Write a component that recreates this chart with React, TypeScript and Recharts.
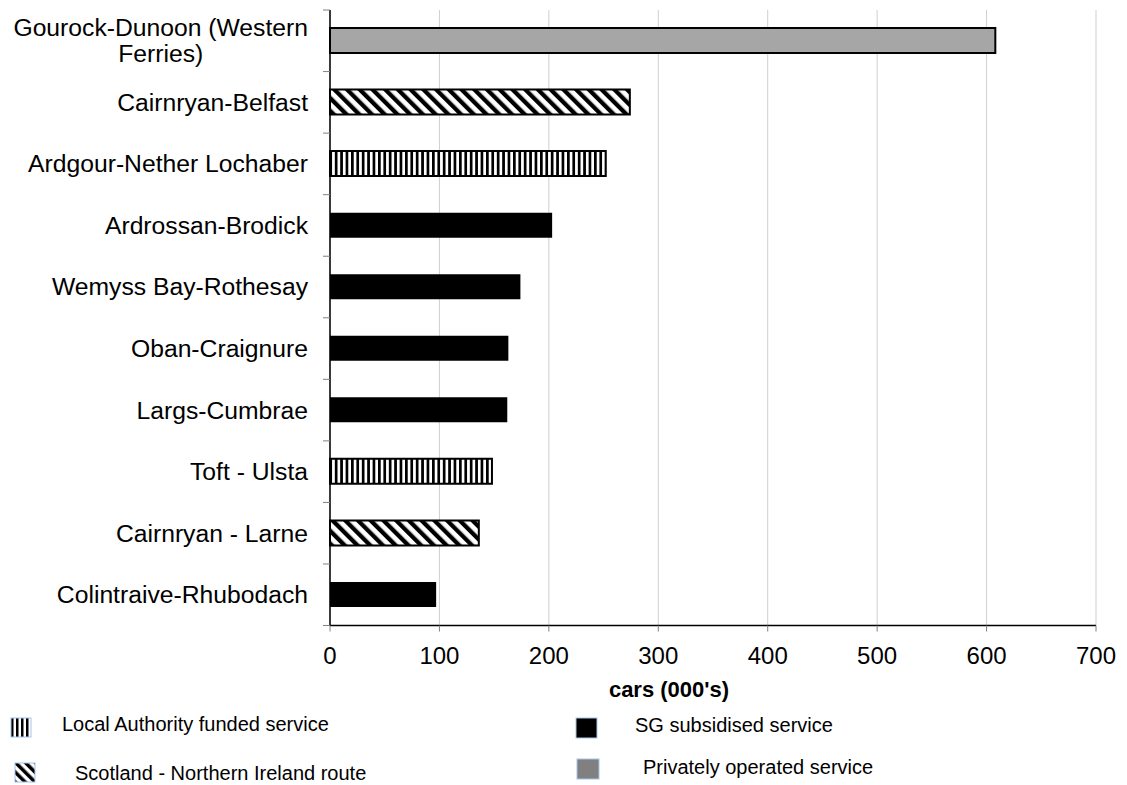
import { Bar, BarChart, CartesianGrid, Cell, Label, XAxis, YAxis } from "recharts";

const categories = [
  "Gourock-Dunoon (Western Ferries)",
  "Cairnryan-Belfast",
  "Ardgour-Nether Lochaber",
  "Ardrossan-Brodick",
  "Wemyss Bay-Rothesay",
  "Oban-Craignure",
  "Largs-Cumbrae",
  "Toft - Ulsta",
  "Cairnryan - Larne",
  "Colintraive-Rhubodach",
];

const carsThousands = [608, 274, 252, 203, 174, 163, 162, 148, 136, 97];

// which legend group each route belongs to
const serviceTypes = ["private", "ni", "la", "sg", "sg", "sg", "sg", "la", "ni", "sg"];

const xTicks = [0, 100, 200, 300, 400, 500, 600, 700];

const legendLabels = {
  la: "Local Authority funded service",
  ni: "Scotland - Northern Ireland route",
  sg: "SG subsidised service",
  private: "Privately operated service",
};

const FONT = "'Liberation Sans', Arial, sans-serif";
const CAT_FONT_SIZE = 24.7;

const barFill: Record<string, string> = {
  private: "#a6a6a6",
  ni: "url(#diagHatch)",
  la: "url(#vertHatch)",
  sg: "#000000",
};

const chartData = categories.map((name, i) => ({
  name,
  cars: carsThousands[i],
  type: serviceTypes[i],
}));

let measureCtx: CanvasRenderingContext2D | null = null;
const textWidth = (s: string) => {
  if (!measureCtx) measureCtx = document.createElement("canvas").getContext("2d");
  if (!measureCtx) return s.length * 12;
  measureCtx.font = `${CAT_FONT_SIZE}px ${FONT}`;
  return measureCtx.measureText(s).width;
};

const wrapLabel = (s: string, maxW: number) => {
  const words = s.split(" ");
  const lines: string[] = [];
  let cur = "";
  words.forEach((w) => {
    const next = cur ? `${cur} ${w}` : w;
    if (cur && textWidth(next) > maxW) {
      lines.push(cur);
      cur = w;
    } else {
      cur = next;
    }
  });
  if (cur) lines.push(cur);
  return lines;
};

const BAND = 61.5;

const CategoryTick = (props: any) => {
  const { x, y, payload, index } = props;
  const axisX = x + 22;
  const lines = wrapLabel(String(payload.value), 300);
  const maxW = Math.max(...lines.map(textWidth));
  const lineGap = 26;
  return (
    <g>
      <line x1={axisX - 7} x2={axisX} y1={y - BAND / 2} y2={y - BAND / 2} stroke="#808080" />
      {index === categories.length - 1 && (
        <line x1={axisX - 7} x2={axisX} y1={y + BAND / 2} y2={y + BAND / 2} stroke="#808080" />
      )}
      {lines.length === 1 ? (
        <text x={x} y={y} dy={8.5} textAnchor="end" fontSize={CAT_FONT_SIZE} fontFamily={FONT} fill="#000">
          {lines[0]}
        </text>
      ) : (
        lines.map((ln, i) => (
          <text
            key={i}
            x={x - maxW / 2}
            y={y + (i - (lines.length - 1) / 2) * lineGap}
            dy={8.5}
            textAnchor="middle"
            fontSize={CAT_FONT_SIZE}
            fontFamily={FONT}
            fill="#000"
          >
            {ln}
          </text>
        ))
      )}
    </g>
  );
};

const legendLayout = [
  { key: "la", box: [11, 718, 20, 19], text: [62, 724] },
  { key: "ni", box: [15, 763, 20, 19], text: [75, 773] },
  { key: "sg", box: [576, 718, 21, 20], text: [635, 725] },
  { key: "private", box: [577, 759, 22, 20], text: [643, 767] },
];

const legendSwatch: Record<string, string> = {
  la: "url(#vertHatchLeg)",
  ni: "url(#diagHatchLeg)",
  sg: "#000000",
  private: "#808080",
};

const App = () => {
  return (
    <div style={{ position: "absolute", left: 0, top: 0, width: 1127, height: 785, background: "#fff" }}>
      <BarChart
        width={1127}
        height={785}
        data={chartData}
        layout="vertical"
        margin={{ top: 10, right: 31, left: 0, bottom: 79.5 }}
        barSize={25}
      >
        <defs>
          <pattern id="vertHatch" width="5.4" height="10" patternUnits="userSpaceOnUse">
            <rect width="5.4" height="10" fill="#fff" />
            <rect width="2.7" height="10" fill="#000" />
          </pattern>
          <pattern id="diagHatch" width="9" height="9" patternUnits="userSpaceOnUse" patternTransform="rotate(-45)">
            <rect width="9" height="9" fill="#fff" />
            <rect width="4.3" height="9" fill="#000" />
          </pattern>
        </defs>
        <CartesianGrid horizontal={false} stroke="#cfcfcf" />
        <XAxis
          type="number"
          domain={[0, 700]}
          ticks={xTicks}
          height={80}
          axisLine={{ stroke: "#000", strokeWidth: 1.5 }}
          tickLine={{ stroke: "#808080" }}
          tickSize={6}
          tickMargin={15}
          tick={{ fontSize: 24, fontFamily: FONT, fill: "#000" }}
        >
          <Label
            content={(p: any) => (
              <text
                x={p.viewBox.x + 339}
                y={697}
                textAnchor="middle"
                fontSize={22}
                fontWeight="bold"
                fontFamily={FONT}
                fill="#000"
              >
                cars (000's)
              </text>
            )}
          />
        </XAxis>
        <YAxis
          type="category"
          dataKey="name"
          width={330}
          axisLine={{ stroke: "#000", strokeWidth: 1.5 }}
          tickLine={false}
          tickSize={6}
          tickMargin={16}
          interval={0}
          tick={<CategoryTick />}
        />
        <Bar dataKey="cars" isAnimationActive={false}>
          {chartData.map((d, i) => (
            <Cell
              key={i}
              fill={barFill[d.type]}
              stroke={d.type === "sg" ? "none" : "#000"}
              strokeWidth={d.type === "sg" ? 0 : 2}
            />
          ))}
        </Bar>
      </BarChart>

      <svg width={1127} height={85} style={{ position: "absolute", left: 0, top: 700 }}>
        <defs>
          <pattern id="vertHatchLeg" width="5" height="10" patternUnits="userSpaceOnUse" x="1">
            <rect width="5" height="10" fill="#fff" />
            <rect width="2.5" height="10" fill="#000" />
          </pattern>
          <pattern id="diagHatchLeg" width="7" height="7" patternUnits="userSpaceOnUse" patternTransform="rotate(-45)">
            <rect width="7" height="7" fill="#fff" />
            <rect width="3.5" height="7" fill="#000" />
          </pattern>
        </defs>
        {legendLayout.map((l) => (
          <rect
            key={l.key}
            x={l.box[0]}
            y={l.box[1] - 700}
            width={l.box[2]}
            height={l.box[3]}
            fill={legendSwatch[l.key]}
            stroke="#a8c4ea"
            strokeWidth={1}
          />
        ))}
      </svg>
      {legendLayout.map((l) => (
        <div
          key={l.key}
          style={{
            position: "absolute",
            left: l.text[0],
            top: l.text[1] - 12,
            lineHeight: "24px",
            fontSize: 20,
            fontFamily: FONT,
            color: "#000",
            whiteSpace: "nowrap",
          }}
        >
          {legendLabels[l.key as keyof typeof legendLabels]}
        </div>
      ))}
    </div>
  );
};

export default App;
